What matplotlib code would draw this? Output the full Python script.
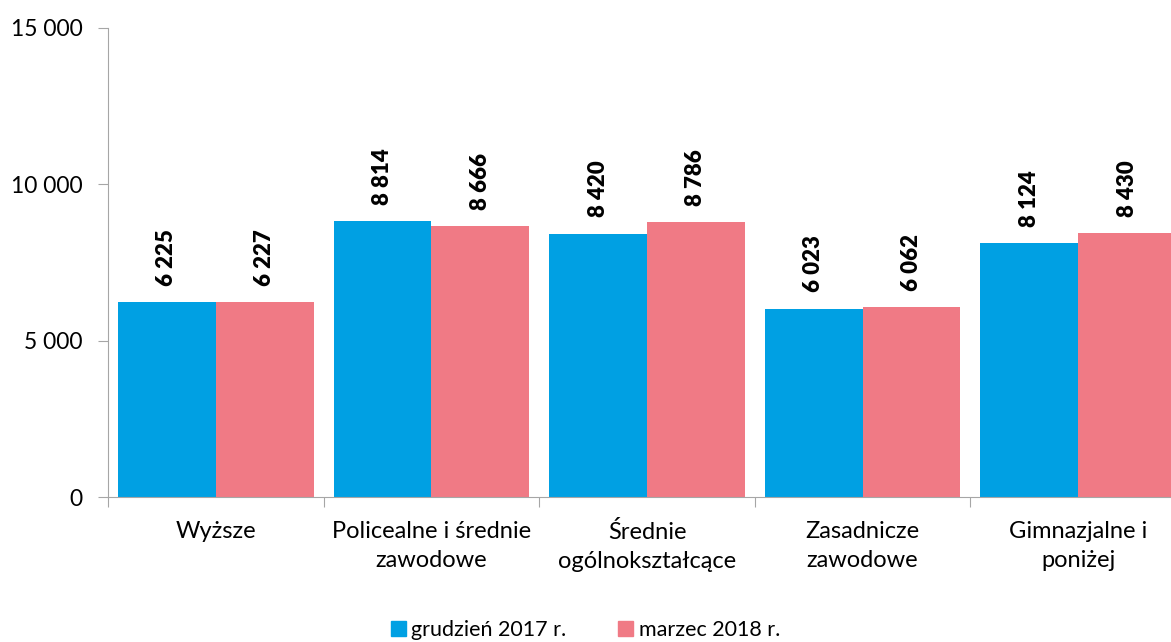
import matplotlib.pyplot as plt
import numpy as np
from matplotlib.ticker import FuncFormatter
from matplotlib.patches import Patch

plt.rcParams['font.family'] = ['Lato', 'DejaVu Sans']

# Data
categories = ['Wyższe', 'Policealne i średnie\nzawodowe', 'Średnie\nogólnokształcące',
              'Zasadnicze\nzawodowe', 'Gimnazjalne i\nponiżej']
grudzien_2017 = [6225, 8814, 8420, 6023, 8124]
marzec_2018 = [6227, 8666, 8786, 6062, 8430]
series_names = ['grudzień 2017 r.', 'marzec 2018 r.']
colors = ['#00A0E3', '#F07A85']

def fmt(v):
    return f"{int(v):,}".replace(',', ' ')

fig = plt.figure(figsize=(11.71, 6.42), dpi=100)
ax = fig.add_axes([108 / 1171, 1 - 497 / 642, 1078 / 1171, 469 / 642])

x = np.arange(len(categories))
w = 0.4535
b1 = ax.bar(x - w / 2, grudzien_2017, w, color=colors[0])
b2 = ax.bar(x + w / 2, marzec_2018, w, color=colors[1])

for bars in (b1, b2):
    for r in bars:
        ax.text(r.get_x() + r.get_width() / 2, r.get_height() + 520, fmt(r.get_height()),
                rotation=90, ha='center', va='bottom', fontsize=16, fontweight='heavy')

ax.set_xlim(-0.5, len(categories) - 0.5)
ax.set_ylim(0, 15000)
ax.set_yticks([0, 5000, 10000, 15000])
ax.yaxis.set_major_formatter(FuncFormatter(lambda v, p: fmt(v)))

# category boundaries as ticks, labels in the middle
ax.set_xticks(np.arange(-0.5, len(categories), 1))
ax.set_xticklabels([])
ax.set_xticks(x, minor=True)
ax.set_xticklabels(categories, minor=True, fontsize=17, linespacing=1.5)
ax.tick_params(axis='x', which='minor', length=0, pad=17)
ax.tick_params(axis='x', which='major', length=7, color='#A6A6A6')
ax.tick_params(axis='y', length=7, color='#A6A6A6', pad=11, labelsize=16.5)

for s in ['top', 'right']:
    ax.spines[s].set_visible(False)
for s in ['left', 'bottom']:
    ax.spines[s].set_color('#A6A6A6')

handles = [Patch(color=c) for c in colors]
fig.legend(handles, series_names, loc='center', bbox_to_anchor=(0.5, 1 - 630 / 642),
           ncol=2, frameon=False, fontsize=15.5, handlelength=0.7, handleheight=0.7,
           handletextpad=0.25, columnspacing=2.4)

plt.savefig('out.png', dpi=100)
